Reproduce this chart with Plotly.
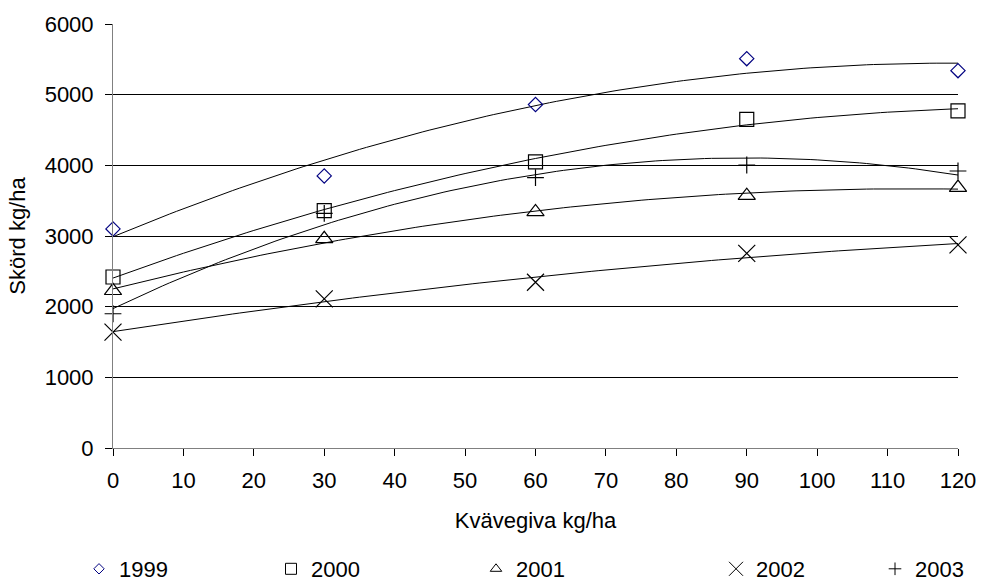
import numpy as np
import plotly.graph_objects as go

kvavegiva = [0, 30, 60, 90, 120]
years = ["1999", "2000", "2001", "2002", "2003"]
skord_1999 = [3100, 3850, 4860, 5510, 5340]
skord_2000 = [2420, 3360, 4050, 4650, 4770]
skord_2001 = [2225, 2960, 3340, 3570, 3685]
skord_2002 = [1640, 2110, 2345, 2755, 2875]
skord_2003 = [1900, 3320, 3825, 4005, 3920]
y_ticks = [0, 1000, 2000, 3000, 4000, 5000, 6000]
x_ticks = list(range(0, 121, 10))

series = [skord_1999, skord_2000, skord_2001, skord_2002, skord_2003]
symbols = ["diamond-open", "square-open", "triangle-up-open", "x-thin-open", "cross-thin-open"]
colors = ["#000080", "#000000", "#000000", "#000000", "#000000"]
plot_sizes = [11, 14, 15, 17, 12]
legend_sizes = [8, 11, 10, 14, 9]
legend_ids = ["legend", "legend2", "legend3", "legend4", "legend5"]
legend_left_px = [79, 271, 476, 716, 875]

W, H = 981, 583

fig = go.Figure()
xs = np.linspace(0, 120, 121)
for vals in series:
    c = np.polyfit(kvavegiva, vals, 2)
    fig.add_trace(go.Scatter(x=xs, y=np.polyval(c, xs), mode="lines",
                             line=dict(color="#000000", width=1), showlegend=False,
                             hoverinfo="skip"))
for yr, vals, sym, col, sz in zip(years, series, symbols, colors, plot_sizes):
    fig.add_trace(go.Scatter(x=kvavegiva, y=vals, mode="markers", name=yr, showlegend=False,
                             cliponaxis=False,
                             marker=dict(symbol=sym, size=sz, color=col,
                                         line=dict(color=col, width=1.2))))
# legend entries (smaller symbols, as in the reference legend)
for yr, sym, col, sz, lid in zip(years, symbols, colors, legend_sizes, legend_ids):
    fig.add_trace(go.Scatter(x=[None], y=[None], mode="markers", name=yr, legend=lid,
                             marker=dict(symbol=sym, size=sz, color=col,
                                         line=dict(color=col, width=1))))

font = dict(family="Liberation Sans, Arial, sans-serif", size=22, color="#000000")
layout_legends = {}
for lid, lpx in zip(legend_ids, legend_left_px):
    layout_legends[lid] = dict(x=lpx / W, xref="container", xanchor="left",
                               y=1 - 569 / H, yref="container", yanchor="middle",
                               orientation="h", itemwidth=30, font=font,
                               bgcolor="rgba(0,0,0,0)", borderwidth=0)

fig.update_layout(
    width=W, height=H,
    margin=dict(l=113, r=23, t=24, b=135, autoexpand=False),
    paper_bgcolor="white", plot_bgcolor="white",
    font=font,
    xaxis=dict(range=[0, 120], tickvals=x_ticks, showgrid=False, zeroline=False,
               showline=True, linecolor="#808080", linewidth=1, automargin=False,
               ticks="outside", ticklen=7, tickcolor="#000000", ticklabelstandoff=6,
               title=dict(text="Kvävegiva kg/ha", font=font, standoff=20)),
    yaxis=dict(range=[0, 6000], tickvals=y_ticks, showgrid=True, gridcolor="#000000",
               gridwidth=1, zeroline=False, showline=True, linecolor="#808080", linewidth=1,
               automargin=False,
               ticks="outside", ticklen=7, tickcolor="#000000", ticklabelstandoff=7,
               title=dict(text="Skörd kg/ha", font=font, standoff=12)),
    showlegend=True,
    **layout_legends,
)
fig.write_html("out.html", config={"displayModeBar": False},
               post_script="document.body.style.margin='0';document.body.style.overflow='hidden';")
